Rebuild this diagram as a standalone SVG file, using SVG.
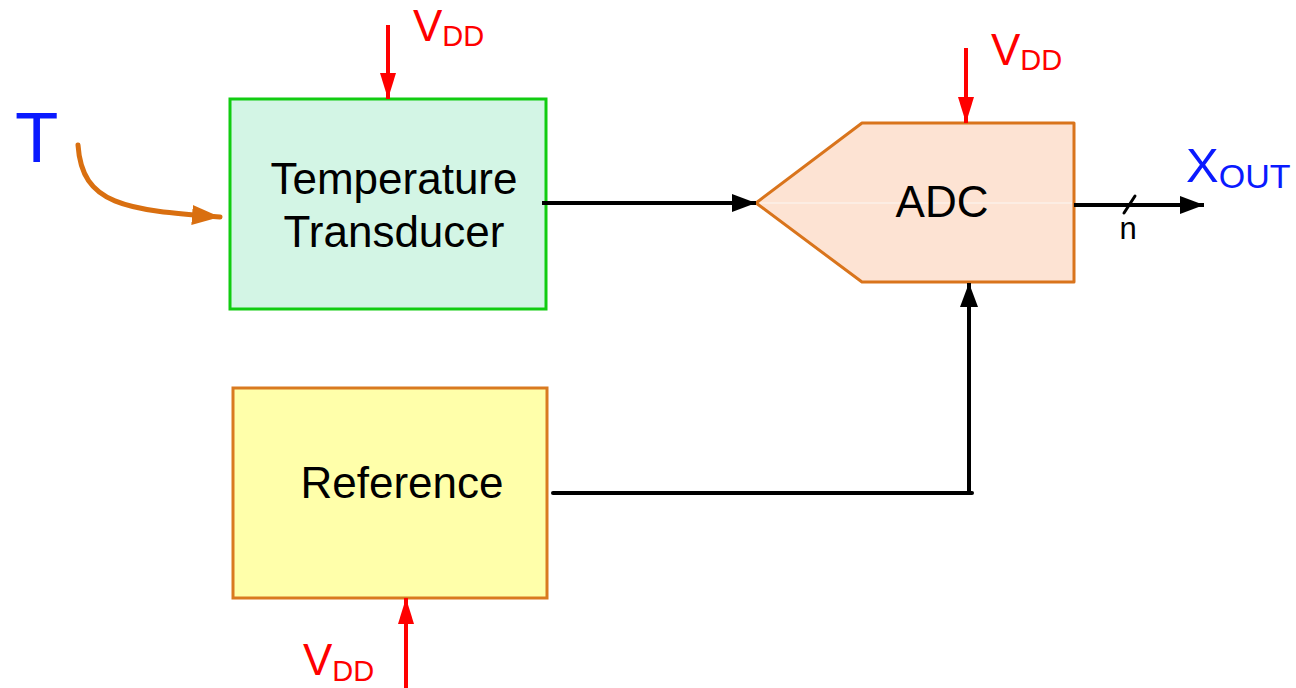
<svg xmlns="http://www.w3.org/2000/svg" width="1296" height="688" viewBox="0 0 1296 688">
  <style>
    text { font-family: "Liberation Sans", Arial, sans-serif; }
    .lbl { font-size: 44px; fill: #000; }
    .vdd { font-size: 44px; fill: #ff0000; }
    .sub { font-size: 29px; }
    .wire { stroke: #000; stroke-width: 4; fill: none; }
    .pwr { stroke: #ff0000; stroke-width: 4; fill: none; }
  </style>
  <defs>
    <marker id="ahBlack" markerUnits="userSpaceOnUse" markerWidth="24" markerHeight="18" refX="24" refY="9" orient="auto">
      <path d="M0,0 L24,9 L0,18 z" fill="#000"/>
    </marker>
    <marker id="ahRed" markerUnits="userSpaceOnUse" markerWidth="26" markerHeight="16" refX="26" refY="8" orient="auto">
      <path d="M0,0 L26,8 L0,16 z" fill="#ff0000"/>
    </marker>
    <marker id="ahOrange" markerUnits="userSpaceOnUse" markerWidth="28" markerHeight="20" refX="28" refY="10" orient="auto">
      <path d="M0,0 L28,10 L0,20 z" fill="#d96f10"/>
    </marker>
  </defs>

  <g id="temperature-transducer">
    <rect x="230" y="99" width="316" height="210" fill="#d3f5e5" stroke="#11cc11" stroke-width="3"/>
    <text class="lbl" x="394" y="194" text-anchor="middle">Temperature</text>
    <text class="lbl" x="394" y="247" text-anchor="middle">Transducer</text>
  </g>

  <g id="reference">
    <rect x="233" y="388" width="314" height="210" fill="#ffffaa" stroke="#d97a20" stroke-width="3"/>
    <text class="lbl" x="402" y="498" text-anchor="middle">Reference</text>
  </g>

  <g id="adc">
    <polygon points="756,203 862,123 1074,123 1074,282 862,282" fill="#fde3d3" stroke="#d9741c" stroke-width="3" stroke-linejoin="round"/>
    <line x1="760" y1="203" x2="1072" y2="203" stroke="#fbf0e8" stroke-width="1.5"/>
    <text class="lbl" x="942" y="217" text-anchor="middle">ADC</text>
  </g>

  <g id="input-T">
    <text x="15" y="162" font-size="71" fill="#0a1aff">T</text>
  </g>

  <g id="vdd-transducer">
    <text class="vdd" x="413" y="41">V<tspan class="sub" dy="5">DD</tspan></text>
  </g>
  <g id="vdd-adc">
    <text class="vdd" x="991" y="65">V<tspan class="sub" dy="5">DD</tspan></text>
  </g>
  <g id="vdd-reference">
    <text class="vdd" x="303" y="675">V<tspan class="sub" dy="6">DD</tspan></text>
  </g>

  <g id="output-xout">
    <text x="1186" y="182" font-size="49" fill="#0a1aff">X<tspan font-size="34" dy="6">OUT</tspan></text>
    <text x="1128" y="239" font-size="31" fill="#000" text-anchor="middle">n</text>
  </g>

  <g id="connectors">
    <path d="M78,145 C82,205 125,210 220,217" stroke="#d96f10" stroke-width="5" fill="none" stroke-linecap="round" marker-end="url(#ahOrange)"/>
    <line class="pwr" x1="388" y1="25" x2="388" y2="99" marker-end="url(#ahRed)"/>
    <line class="pwr" x1="966" y1="48" x2="966" y2="123" marker-end="url(#ahRed)"/>
    <line class="pwr" x1="406" y1="688" x2="406" y2="598" marker-end="url(#ahRed)"/>
    <line class="wire" x1="542" y1="203" x2="756" y2="203" marker-end="url(#ahBlack)"/>
    <line class="wire" x1="1074" y1="205" x2="1204" y2="205" marker-end="url(#ahBlack)"/>
    <line x1="1124" y1="213" x2="1135" y2="196" stroke="#000" stroke-width="3" stroke-linecap="round"/>
    <polyline class="wire" points="553,493 972,493" stroke-linecap="round"/>
    <line class="wire" x1="969" y1="495" x2="969" y2="283" marker-end="url(#ahBlack)"/>
  </g>
</svg>
